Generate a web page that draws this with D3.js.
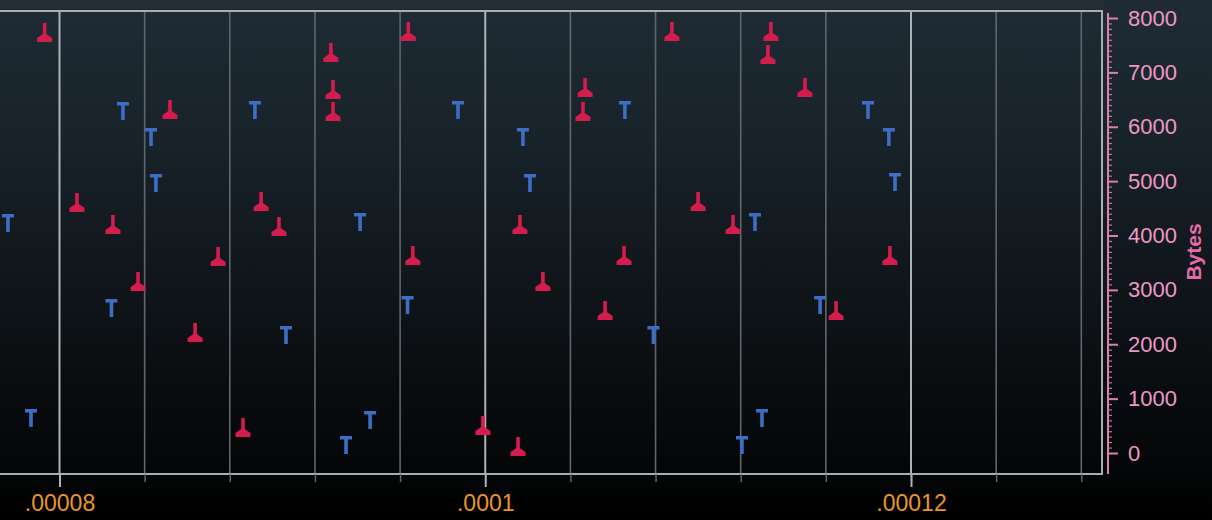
<!DOCTYPE html>
<html><head><meta charset="utf-8">
<script src="https://cdn.jsdelivr.net/npm/d3@7"></script>
<style>html,body{margin:0;padding:0;background:#000;overflow:hidden}</style>
</head><body>
<svg id="chart" width="1212" height="520"></svg>
<script>
// ---- data ----
const redTime = [0.00007930, 0.00009275, 0.00009639, 0.00010877, 0.00011342, 0.00011328, 0.00009285, 0.00010469, 0.00011502, 0.00008519, 0.00009285, 0.00010459, 0.00008082, 0.00008947, 0.00011000, 0.00008251, 0.00009031, 0.00010163, 0.00011164, 0.00008745, 0.00009660, 0.00010652, 0.00011901, 0.00008369, 0.00010271, 0.00010563, 0.00011648, 0.00008637, 0.00008862, 0.00009989, 0.00010154];
const redBytes = [7724, 7356, 7742, 7742, 7742, 7319, 6676, 6712, 6712, 6308, 6271, 6271, 4598, 4616, 4616, 4193, 4156, 4193, 4193, 3604, 3623, 3623, 3623, 3145, 3145, 2611, 2611, 2207, 460, 497, 110];
const blueTime = [0.00008298, 0.00008918, 0.00009872, 0.00010656, 0.00011798, 0.00008430, 0.00010177, 0.00011896, 0.00008453, 0.00010210, 0.00011925, 0.00007758, 0.00009412, 0.00011267, 0.00008244, 0.00009635, 0.00011573, 0.00009064, 0.00010790, 0.00007866, 0.00009459, 0.00011300, 0.00009346, 0.00011206];
const blueBytes = [6290, 6308, 6308, 6308, 6308, 5811, 5811, 5811, 4965, 4965, 4984, 4230, 4248, 4248, 2667, 2722, 2722, 2170, 2170, 644, 607, 644, 147, 147];
const xTickValues = [0.00008, 0.0001, 0.00012];
const xTickLabels = [".00008", ".0001", ".00012"];
const xMinorStep = 0.000004;
const yTickValues = [0, 1000, 2000, 3000, 4000, 5000, 6000, 7000, 8000];
const yMinorStep = 100;
const yTitle = "Bytes";

// ---- layout ----
const W = 1212, H = 520;
const plot = {left: 0, top: 11, right: 1102, bottom: 474};
const svg = d3.select("#chart");

const x = d3.scaleLinear().domain([0.00008, 0.00012]).range([59.5, 911]);
const y = d3.scaleLinear().domain([0, 8000]).range([453, 18]);

const defs = svg.append("defs");
const grad = defs.append("linearGradient").attr("id", "bg").attr("x1", 0).attr("x2", 0).attr("y1", 0).attr("y2", 1);
[[0, "#1f2c35"], [0.3, "#172128"], [0.6, "#0e1317"], [0.85, "#06080a"], [1, "#000"]].forEach(([o, c]) =>
  grad.append("stop").attr("offset", o).attr("stop-color", c));
defs.append("clipPath").attr("id", "clip").append("rect")
  .attr("x", plot.left).attr("y", plot.top).attr("width", plot.right - plot.left).attr("height", plot.bottom - plot.top);
const soft = defs.append("filter").attr("id", "soft").attr("x", "-20%").attr("y", "-20%").attr("width", "140%").attr("height", "140%");
soft.append("feGaussianBlur").attr("stdDeviation", 0.45);

svg.append("rect").attr("width", W).attr("height", H).attr("fill", "url(#bg)");
svg.append("rect").attr("x", 0).attr("y", 0).attr("width", 1104).attr("height", 9).attr("fill", "#222d34");

// grid
const d0 = x.invert(plot.left), d1 = x.invert(plot.right);
const minorVals = d3.range(Math.ceil(d0 / xMinorStep - 1e-6), Math.floor(d1 / xMinorStep + 1e-6) + 1).map(k => k * xMinorStep);
const gGrid = svg.append("g").attr("clip-path", "url(#clip)");
gGrid.selectAll("line.minor").data(minorVals.filter(v => !xTickValues.some(t => Math.abs(t - v) < 1e-9)))
  .join("line").attr("class", "minor")
  .attr("x1", d => x(d)).attr("x2", d => x(d)).attr("y1", plot.top).attr("y2", plot.bottom)
  .attr("stroke", "#5f666c").attr("stroke-width", 1.6);
gGrid.selectAll("line.major").data(xTickValues).join("line").attr("class", "major")
  .attr("x1", d => x(d)).attr("x2", d => x(d)).attr("y1", plot.top).attr("y2", plot.bottom)
  .attr("stroke", "#aeb2b6").attr("stroke-width", 2);

// frame
svg.append("path")
  .attr("d", `M${plot.left - 2},${plot.top}H${plot.right}V${plot.bottom}H${plot.left - 2}`)
  .attr("fill", "none").attr("stroke", "#a9adb1").attr("stroke-width", 2);

// x axis
const gxMinor = svg.append("g").attr("transform", `translate(0,${plot.bottom})`)
  .call(d3.axisBottom(x).tickValues(minorVals).tickSize(8).tickFormat(""));
gxMinor.select(".domain").remove();
gxMinor.selectAll("line").attr("stroke", "#5f666c").attr("stroke-width", 1.5);
const gx = svg.append("g").attr("transform", `translate(0,${plot.bottom})`)
  .call(d3.axisBottom(x).tickValues(xTickValues).tickSize(13).tickFormat((d, i) => xTickLabels[i]));
gx.select(".domain").remove();
gx.selectAll("line").attr("stroke", "#aeb2b6").attr("stroke-width", 2);
gx.selectAll("text").attr("y", 37).attr("dy", null)
  .attr("fill", "#eb942c").attr("font-family", "Liberation Sans, Arial, sans-serif").attr("font-size", 23);

// y axis
const axX = 1108;
const gyMinor = svg.append("g").attr("transform", `translate(${axX},0)`)
  .call(d3.axisRight(y).tickValues(d3.range(0, 8001, yMinorStep)).tickSize(4).tickFormat(""));
gyMinor.select(".domain").remove();
gyMinor.selectAll("line").attr("stroke", "#c7709c").attr("stroke-width", 1.2);
const gy = svg.append("g").attr("transform", `translate(${axX},0)`)
  .call(d3.axisRight(y).tickValues(yTickValues).tickSize(10).tickPadding(10).tickFormat(d3.format("d")));
gy.select(".domain").remove();
gy.selectAll("line").attr("stroke", "#d97fae").attr("stroke-width", 2);
gy.selectAll("text").attr("fill", "#ee98c6").attr("font-family", "Liberation Sans, Arial, sans-serif").attr("font-size", 22);
svg.append("line").attr("x1", axX).attr("x2", axX).attr("y1", plot.top + 2).attr("y2", plot.bottom)
  .attr("stroke", "#d97fae").attr("stroke-width", 2);
svg.append("text").attr("transform", `translate(1201,252) rotate(-90)`)
  .attr("text-anchor", "middle").attr("fill", "#e66ca6")
  .attr("font-family", "Liberation Sans Narrow, Liberation Sans, Arial, sans-serif").attr("font-weight", "bold").attr("font-size", 21)
  .text(yTitle);

// markers
const gm = svg.append("g").attr("clip-path", "url(#clip)").attr("filter", "url(#soft)");
const tShape = "M-6,-9H6V-5.5H1.8V9H-1.8V-5.5H-6Z";
const upShape = "M-1.8,-10H1.8V1L7.5,5V9H-7.5V5L-1.8,1Z";
gm.selectAll("path.blue").data(d3.zip(blueTime, blueBytes)).join("path").attr("class", "blue")
  .attr("transform", d => `translate(${x(d[0])},${y(d[1])})`).attr("d", tShape).attr("fill", "#3d6ec6");
gm.selectAll("path.red").data(d3.zip(redTime, redBytes)).join("path").attr("class", "red")
  .attr("transform", d => `translate(${x(d[0])},${y(d[1])})`).attr("d", upShape).attr("fill", "#d41c4e");
</script>
</body></html>
